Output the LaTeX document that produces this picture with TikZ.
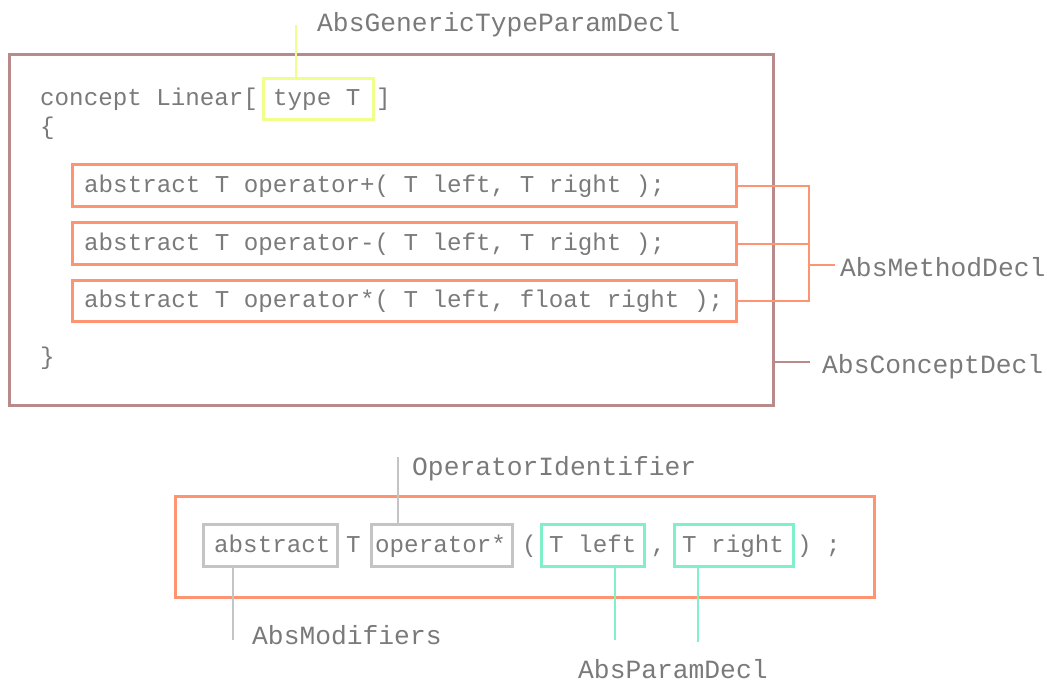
\documentclass[tikz,border=0pt]{standalone}
\usepackage{fontspec}
\newfontfamily\codefont{Liberation Mono}
\definecolor{txt}{HTML}{7A7A7A}
\definecolor{concept}{HTML}{B88A8A}
\definecolor{salmon}{HTML}{FF9472}
\definecolor{yel}{HTML}{F0FF8C}
\definecolor{teal}{HTML}{80F0C8}
\definecolor{grey}{HTML}{C4C4C4}
\tikzset{
  codetxt/.style={font=\codefont\fontsize{24.2}{28}\selectfont, text=txt, inner sep=0pt, anchor=mid west, yshift=-5pt},
  lbl/.style={font=\codefont\fontsize{26.3}{30}\selectfont, text=txt, inner sep=0pt, anchor=mid west, yshift=-6pt},
  boxx/.style={draw, line width=3pt, inner sep=0pt, anchor=north west},
  conn/.style={line width=2pt},
}
\begin{document}
\begin{tikzpicture}[x=1pt,y=-1pt]
\useasboundingbox (0,0) rectangle (1047,682);
% concept box
\node[boxx, draw=concept, minimum width=764, minimum height=351] (concept) at (8,53) {};
\node[codetxt] (l1a) at (40,98) {concept Linear[};
\node[boxx, draw=yel, minimum width=110, minimum height=41] (typebox) at (262,77) {};
\node[codetxt] (typet) at (273,98) {type T};
\node[codetxt] (l1b) at (376,98) {]};
\node[codetxt] (lb) at (40,127) {\{};
\node[codetxt] (rb) at (40,357) {\}};
% method boxes
\node[boxx, draw=salmon, minimum width=664, minimum height=42] (m1) at (71,163) {};
\node[codetxt] (t1) at (84,185) {abstract T operator+( T left, T right );};
\node[boxx, draw=salmon, minimum width=664, minimum height=42] (m2) at (71,221) {};
\node[codetxt] (t2) at (84,243) {abstract T operator-( T left, T right );};
\node[boxx, draw=salmon, minimum width=664, minimum height=41] (m3) at (71,279) {};
\node[codetxt] (t3) at (84,300) {abstract T operator*( T left, float right );};
% labels top
\node[lbl] (gen) at (317,23) {AbsGenericTypeParamDecl};
\coordinate (genend) at (296,25);
\draw[conn, yel] (genend) -- (typebox.north -| genend);
\node[lbl] (meth) at (840,268) {AbsMethodDecl};
\coordinate (br) at (809,265);
\coordinate (brend) at (835,265);
\draw[conn, salmon] (m1.east) -- (m1.east -| br) -- (m3.east -| br) -- (m3.east);
\draw[conn, salmon] (m2.east) -- (m2.east -| br);
\draw[conn, salmon] (br) -- (brend);
\node[lbl] (conc) at (822,365) {AbsConceptDecl};
\coordinate (cc) at (772,362);
\coordinate (ccend) at (810,362);
\draw[conn, concept] (cc) -- (ccend);
% bottom
\node[boxx, draw=salmon, minimum width=699, minimum height=101] (big) at (174,495) {};
\node[boxx, draw=grey, minimum width=134, minimum height=42] (absb) at (202,523) {};
\node[codetxt] (abst) at (214,545) {abstract};
\node[codetxt] (tt) at (346,545) {T};
\node[boxx, draw=grey, minimum width=141, minimum height=42] (opb) at (370,523) {};
\node[codetxt] (opt) at (375,545) {operator*};
\node[codetxt] (lp) at (522,545) {(};
\node[boxx, draw=teal, minimum width=103, minimum height=42] (lb1) at (540,523) {};
\node[codetxt] (lt) at (549,545) {T left};
\node[codetxt] (cm) at (651,545) {,};
\node[boxx, draw=teal, minimum width=119, minimum height=42] (rb1) at (673,523) {};
\node[codetxt] (rt) at (682,545) {T right};
\node[codetxt] (rp) at (797,545) {) ;};
\node[lbl] (opid) at (412,467) {OperatorIdentifier};
\coordinate (ope) at (398,457);
\draw[conn, grey] (ope) -- (opb.north -| ope);
\node[lbl] (mods) at (252,636) {AbsModifiers};
\coordinate (mode) at (233,640);
\draw[conn, grey] (absb.south -| mode) -- (mode);
\node[lbl] (par) at (578,670) {AbsParamDecl};
\coordinate (p1) at (615,640);
\coordinate (p2) at (698,642);
\draw[conn, teal] (lb1.south -| p1) -- (p1);
\draw[conn, teal] (rb1.south -| p2) -- (p2);
\end{tikzpicture}
\end{document}
